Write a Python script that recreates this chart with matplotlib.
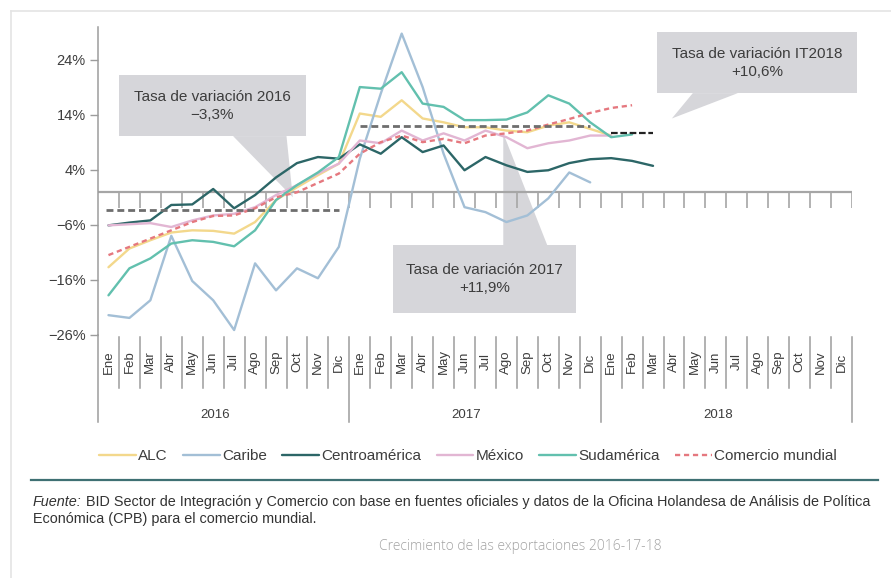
import numpy as np
import matplotlib
matplotlib.use("Agg")
import matplotlib.pyplot as plt
from matplotlib.patches import Rectangle, Polygon
from matplotlib.lines import Line2D
from matplotlib.transforms import blended_transform_factory

plt.rcParams['font.family'] = ['Liberation Sans', 'DejaVu Sans']

# ---- data (% year-on-year) ----
months = ['Ene', 'Feb', 'Mar', 'Abr', 'May', 'Jun', 'Jul', 'Ago', 'Sep', 'Oct', 'Nov', 'Dic']
years = ['2016', '2017', '2018']
yticks = [-26, -16, -6, 4, 14, 24]

alc = [-13.7, -10.3, -8.8, -7.4, -7.0, -7.1, -7.6, -5.5, -1.5, 0.8, 3.0, 5.1,
       14.2, 13.6, 16.6, 13.3, 12.6, 11.7, 11.7, 11.1, 10.8, 12.0, 12.6, 11.4,
       10.2]
caribe = [-22.4, -22.9, -19.7, -8.0, -16.2, -19.7, -25.1, -13.0, -17.9, -13.9, -15.7, -10.0,
          6.0, 17.8, 28.7, 19.0, 6.9, -2.8, -3.7, -5.5, -4.3, -1.2, 3.5, 1.7]
centro = [-6.1, -5.6, -5.2, -2.4, -2.3, 0.5, -3.0, -0.6, 2.6, 5.2, 6.3, 6.0,
          8.6, 6.9, 9.9, 7.2, 8.4, 3.9, 6.3, 4.8, 3.6, 3.9, 5.2, 5.9,
          6.1, 5.6, 4.7]
mexico = [-6.1, -5.9, -5.7, -6.4, -5.2, -4.3, -4.0, -2.8, -0.6, 1.2, 3.3, 5.1,
          9.3, 8.8, 11.1, 9.3, 10.6, 9.3, 11.1, 9.9, 7.9, 8.8, 9.3, 10.2,
          10.2]
sud = [-18.8, -13.9, -12.1, -9.4, -8.8, -9.1, -9.9, -7.0, -1.5, 1.2, 3.5, 6.3,
       19.0, 18.7, 21.7, 16.0, 15.4, 13.0, 13.0, 13.1, 14.4, 17.5, 16.0, 12.6,
       9.9, 10.4]
comercio = [-11.5, -10.0, -8.5, -7.0, -5.5, -4.4, -4.3, -3.0, -1.0, -0.1, 1.6, 3.3,
            6.9, 9.0, 10.2, 9.0, 9.6, 8.8, 10.2, 10.6, 11.1, 12.2, 13.2, 14.3,
            15.2, 15.7]
avg_2016, avg_2017, avg_it2018 = -3.3, 11.9, 10.6

series = [
    ("ALC", alc, "#f3d88c", "-"),
    ("Caribe", caribe, "#a3bfd6", "-"),
    ("Centroamérica", centro, "#2c6667", "-"),
    ("México", mexico, "#e2b6d3", "-"),
    ("Sudamérica", sud, "#62c0ae", "-"),
    ("Comercio mundial", comercio, "#e5787f", (0, (2.2, 1.6))),
]

W, H = 891, 578
fig = plt.figure(figsize=(W / 100, H / 100), dpi=100)
ax = fig.add_axes([98 / W, 1 - 335 / H, 754 / W, 308 / H])
AX_H = 308.0
GRID = "#9c9c9c"
TXT = "#3d3d3d"
BOX = "#d6d6da"

# callouts (behind the lines)
def callout(x0, x1, y0, y1, tail, label):
    ax.add_patch(Rectangle((x0, y0), x1 - x0, y1 - y0, fc=BOX, ec="none", zorder=0.5, clip_on=False))
    ax.add_patch(Polygon(tail, closed=True, fc=BOX, ec="none", zorder=0.5, clip_on=False))
    ax.text((x0 + x1) / 2, (y0 + y1) / 2, label, ha="center", va="center",
            fontsize=11, linespacing=1.35, color=TXT, zorder=3)

def pct(v):
    return (f"{v:+.1f}".replace(".", ",").replace("-", "−")) + "%"

callout(1.0, 9.93, 10.1, 21.1, [(6.45, 10.1), (9.0, 10.1), (9.3, -1.0)],
        f"Tasa de variación 2016\n{pct(avg_2016)}")
callout(14.1, 22.8, -22.0, -9.7, [(19.35, -9.7), (21.45, -9.7), (19.35, 10.6)],
        f"Tasa de variación 2017\n{pct(avg_2017)}")
callout(26.7, 36.25, 17.9, 28.95, [(28.4, 17.9), (30.55, 17.9), (27.4, 13.3)],
        f"Tasa de variación IT2018\n{pct(avg_it2018)}")

# zero line with month ticks
ax.axhline(0, color="#a6a6a6", lw=1.6, zorder=1)
ax.vlines(np.arange(1, 37), -3.0, 0, color="#a6a6a6", lw=1.2, zorder=1)

# yearly average lines
ax.hlines(avg_2016, 0.4, 11.5, color="#6e6e6e", lw=2, linestyles=(0, (2.5, 1.4)), zorder=2.5)
ax.hlines(avg_2017, 12.5, 23.5, color="#6e6e6e", lw=2, linestyles=(0, (2.5, 1.4)), zorder=2.5)
ax.hlines(avg_it2018, 24.5, 26.5, color="#222222", lw=1.6, linestyles=(0, (3, 1.2)), zorder=2.5)

handles = []
for name, vals, col, ls in series:
    x = np.arange(len(vals)) + 0.5
    ln, = ax.plot(x, vals, color=col, lw=1.7, ls=ls, label=name, zorder=2,
                  solid_joinstyle="round", solid_capstyle="round")
    handles.append(ln)

ax.set_xlim(0, 36)
ax.set_ylim(-26, 29.9)
ax.set_xticks([])
ax.set_yticks(yticks)
ax.set_yticklabels([f"{v}%".replace("-", "−") for v in yticks], fontsize=10.5, color=TXT)
ax.tick_params(axis="y", length=6, width=1, color=GRID, pad=3)
for s in ("top", "right", "bottom"):
    ax.spines[s].set_visible(False)
ax.spines["left"].set_color(GRID)
ax.spines["left"].set_linewidth(1.1)
ax.patch.set_alpha(0)

# category axis below the plot
trans = blended_transform_factory(ax.transData, ax.transAxes)
for k in range(37):
    top = 0 if k == 0 else -2 / AX_H
    bot = -87 / AX_H if k % 12 == 0 else -53 / AX_H
    ax.plot([k, k], [top, bot], transform=trans, clip_on=False, color=GRID, lw=1.1)
for i in range(36):
    ax.text(i + 0.5, -27 / AX_H, months[i % 12], rotation=90, ha="center", va="center",
            transform=trans, fontsize=9.5, color=TXT)
for j, yr in enumerate(years):
    ax.text(12 * j + 5.6, -80 / AX_H, yr, ha="center", va="center", transform=trans,
            fontsize=9.5, color=TXT)

# legend
leg = fig.legend(handles=handles, loc="center", bbox_to_anchor=(468 / W, 1 - 456 / H),
                 ncol=6, frameon=False, fontsize=11, handlelength=2.4, handletextpad=0.15,
                 columnspacing=1.0)
for t in leg.get_texts():
    t.set_color(TXT)

# card border and separator
fig.add_artist(Line2D([11 / W, 1], [1 - 11 / H] * 2, color="#e4e4e4", lw=1.2))
fig.add_artist(Line2D([11 / W] * 2, [0, 1 - 11 / H], color="#e4e4e4", lw=1.2))
fig.add_artist(Line2D([31 / W, 878 / W], [1 - 480 / H] * 2, color="#3f7073", lw=1.6))

# source note
f1 = fig.text(33 / W, 1 - 502 / H, "Fuente:", style="italic", fontsize=10.4, color="#333333", va="center")
ax.annotate(" BID Sector de Integración y Comercio con base en fuentes oficiales y datos de la "
            "Oficina Holandesa de Análisis de Política", xy=(1, 0.5), xycoords=f1,
            va="center", ha="left", fontsize=10.4, color="#333333")
fig.text(33 / W, 1 - 519 / H, "Económica (CPB) para el comercio mundial.", fontsize=10.4,
         color="#333333", va="center")

fig.text(520 / W, 1 - 547 / H, "Crecimiento de las exportaciones 2016-17-18", ha="center",
         va="center", fontsize=10, color="#a3a3a3", family=["Open Sans", "DejaVu Sans"],
         fontweight="light")

fig.savefig("out.png", dpi=100)
